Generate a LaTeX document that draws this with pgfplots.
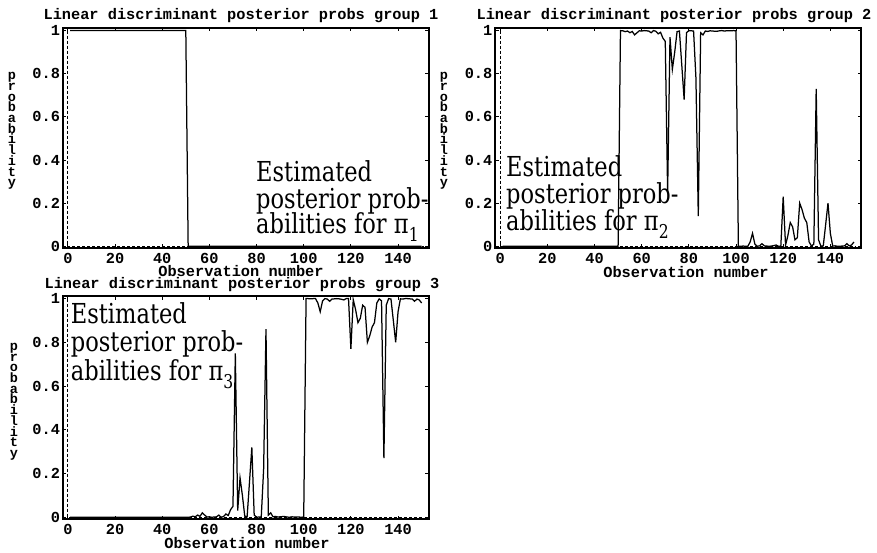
\documentclass[border=0pt]{standalone}
\usepackage{fontspec}
\setmainfont{Liberation Mono}
\newfontfamily\annotfont[FakeStretch=0.82]{DejaVu Serif}
\usepackage{pgfplots}
\usepackage{pgfplotstable}
\pgfplotsset{compat=1.18}

% obs, posterior for group 1, 2, 3
\pgfplotstableread{
obs p1 p2 p3
1 1 0 0
2 1 0 0
3 1 0 0
4 1 0 0
5 1 0 0
6 1 0 0
7 1 0 0
8 1 0 0
9 1 0 0
10 1 0 0
11 1 0 0
12 1 0 0
13 1 0 0
14 1 0 0
15 1 0 0
16 1 0 0
17 1 0 0
18 1 0 0
19 1 0 0
20 1 0 0
21 1 0 0
22 1 0 0
23 1 0 0
24 1 0 0
25 1 0 0
26 1 0 0
27 1 0 0
28 1 0 0
29 1 0 0
30 1 0 0
31 1 0 0
32 1 0 0
33 1 0 0
34 1 0 0
35 1 0 0
36 1 0 0
37 1 0 0
38 1 0 0
39 1 0 0
40 1 0 0
41 1 0 0
42 1 0 0
43 1 0 0
44 1 0 0
45 1 0 0
46 1 0 0
47 1 0 0
48 1 0 0
49 1 0 0
50 1 0 0
51 0 1 0
52 0 0.999 0.001
53 0 0.995 0.005
54 0 0.998 0.002
55 0 0.99 0.01
56 0 0.996 0.004
57 0 0.98 0.02
58 0 0.99 0.01
59 0 0.999 0.001
60 0 0.998 0.002
61 0 1 0
62 0 0.999 0.001
63 0 0.998 0.002
64 0 0.99 0.01
65 0 1 0
66 0 0.997 0.003
67 0 0.985 0.015
68 0 0.992 0.008
69 0 0.965 0.035
70 0 0.95 0.05
71 0 0.25 0.75
72 0 0.97 0.03
73 0 0.82 0.18
74 0 0.90 0.10
75 0 0.995 0.005
76 0 0.998 0.002
77 0 0.84 0.16
78 0 0.68 0.32
79 0 0.99 0.01
80 0 1 0
81 0 0.999 0.001
82 0 0.998 0.002
83 0 0.78 0.22
84 0 0.14 0.86
85 0 0.99 0.01
86 0 0.98 0.02
87 0 0.998 0.002
88 0 0.996 0.004
89 0 0.999 0.001
90 0 0.998 0.002
91 0 0.997 0.003
92 0 0.997 0.003
93 0 0.999 0.001
94 0 1 0
95 0 0.998 0.002
96 0 0.999 0.001
97 0 0.999 0.001
98 0 0.999 0.001
99 0 1 0
100 0 0.999 0.001
101 0 0 1
102 0 0 1
103 0 0.001 0.999
104 0 0 1
105 0 0 1
106 0 0.02 0.98
107 0 0.06 0.94
108 0 0.01 0.99
109 0 0 1
110 0 0.002 0.998
111 0 0.012 0.988
112 0 0.002 0.998
113 0 0.001 0.999
114 0 0 1
115 0 0.001 0.999
116 0 0.003 0.997
117 0 0.006 0.994
118 0 0 1
119 0 0 1
120 0 0.23 0.77
121 0 0.005 0.995
122 0 0.05 0.95
123 0 0.11 0.89
124 0 0.09 0.91
125 0 0.03 0.97
126 0 0.04 0.96
127 0 0.20 0.80
128 0 0.17 0.83
129 0 0.13 0.87
130 0 0.11 0.89
131 0 0.02 0.98
132 0 0.001 0.999
133 0 0.01 0.99
134 0 0.73 0.27
135 0 0.03 0.97
136 0 0 1
137 0 0.002 0.998
138 0 0.10 0.90
139 0 0.20 0.80
140 0 0.06 0.94
141 0 0.001 0.999
142 0 0.002 0.998
143 0 0 1
144 0 0 1
145 0 0.001 0.999
146 0 0.002 0.998
147 0 0.012 0.988
148 0 0.002 0.998
149 0 0.006 0.994
150 0 0.02 0.98
}\posterior

\newcommand{\monofont}{\fontsize{15.3}{15.3}\selectfont\bfseries}

\pgfplotsset{
  postaxis/.style={
    scale only axis,
    width=366pt, height=220pt,
    xmin=-2.2, xmax=153, ymin=-0.008, ymax=1.012,
    xtick={0,20,40,60,80,100,120,140},
    xticklabels={0,20,40,60,80,100,120,140},
    ytick={0,0.2,0.4,0.6,0.8,1},
    yticklabels={0,0.2,0.4,0.6,0.8,1},
    tick pos=both, tick align=inside,
    major tick length=3.5pt,
    every tick/.style={black, line width=0.9pt},
    axis line style={line width=1.6pt},
    tick label style={font=\monofont},
    xticklabel style={inner sep=0pt, yshift=-5pt},
    yticklabel style={inner sep=0pt, xshift=-2.5pt},
  },
  refline/.style={black, line width=0.9pt, dash pattern=on 3pt off 2pt},
  postline/.style={black, line width=1.25pt},
}

\newcommand{\stackedylabel}[2]{%
  \node[align=center, inner sep=0pt, font=\fontsize{13.5}{10.7}\selectfont\bfseries]
    at (#1,#2) {p\\r\\o\\b\\a\\b\\i\\l\\i\\t\\y};}

\begin{document}
\begin{tikzpicture}[x=1pt, y=1pt]
\path[use as bounding box, fill=white] (0,0) rectangle (877,552);

% group 1
\begin{axis}[postaxis, at={(62.7pt,304pt)}, anchor=south west]
  \addplot[refline] coordinates {(0,1) (0,0) (151,0)};
  \addplot[postline] table[x=obs, y=p1] {\posterior};
\end{axis}

% group 2
\begin{axis}[postaxis, at={(495pt,304pt)}, anchor=south west]
  \addplot[refline] coordinates {(0,1) (0,0) (151,0)};
  \addplot[postline] table[x=obs, y=p2] {\posterior};
\end{axis}

% group 3
\begin{axis}[postaxis, height=223pt, at={(62.7pt,33pt)}, anchor=south west]
  \addplot[refline] coordinates {(0,1) (0,0) (151,0)};
  \addplot[postline] table[x=obs, y=p3] {\posterior};
\end{axis}

% titles and axis labels
\node[anchor=base, inner sep=0pt, font=\monofont] at (241,532) {Linear discriminant posterior probs group 1};
\node[anchor=base, inner sep=0pt, font=\monofont] at (674,532) {Linear discriminant posterior probs group 2};
\node[anchor=base, inner sep=0pt, font=\monofont] at (242,263.7) {Linear discriminant posterior probs group 3};
\node[anchor=base, inner sep=0pt, font=\monofont] at (241,275.3) {Observation number};
\node[anchor=base, inner sep=0pt, font=\monofont] at (686,274) {Observation number};
\node[anchor=base, inner sep=0pt, font=\monofont] at (247,4) {Observation number};
\stackedylabel{12}{421}
\stackedylabel{444}{421}
\stackedylabel{14}{150.3}

% annotations
\begin{scope}[every node/.style={anchor=base west, inner sep=0pt, font=\annotfont\fontsize{27.5}{27.5}\selectfont}]
\node at (256,370.3) {Estimated};
\node at (256,343.7) {posterior prob-};
\node at (256,318.7) {abilities for π\raisebox{-8pt}{\fontsize{19}{19}\selectfont 1}};
\node at (506,375.3) {Estimated};
\node at (506,348.7) {posterior prob-};
\node at (506,321) {abilities for π\raisebox{-8pt}{\fontsize{19}{19}\selectfont 2}};
\node at (70.7,228.7) {Estimated};
\node at (70.7,200.3) {posterior prob-};
\node at (70.7,172) {abilities for π\raisebox{-8pt}{\fontsize{19}{19}\selectfont 3}};
\end{scope}
\end{tikzpicture}
\end{document}
